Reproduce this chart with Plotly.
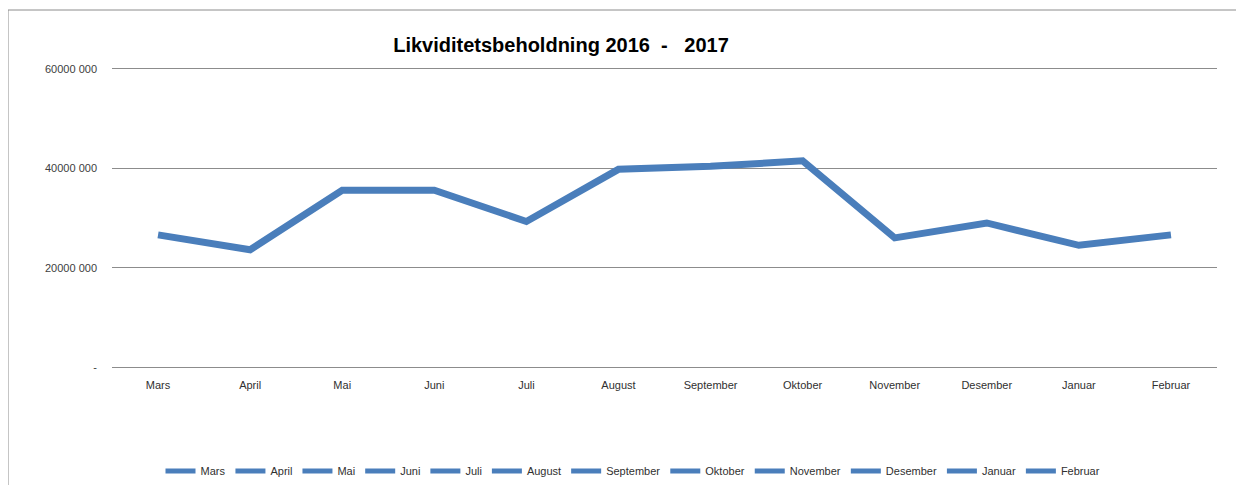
import plotly.graph_objects as go

months = ["Mars", "April", "Mai", "Juni", "Juli", "August", "September",
          "Oktober", "November", "Desember", "Januar", "Februar"]
balance = [26_600_000, 23_600_000, 35_600_000, 35_600_000, 29_300_000, 39_800_000,
           40_400_000, 41_500_000, 26_000_000, 29_000_000, 24_500_000, 26_600_000]
y_tickvals = [0, 20_000_000, 40_000_000, 60_000_000]
y_ticktext = ["-", "20000 000", "40000 000", "60000 000"]
title_text = "Likviditetsbeholdning 2016  -   2017"

LINE = "#4a7ebb"
GRID = "#8c8c8c"
FONT = "Liberation Sans"

OFF = 8  # page body margin
W, H = 1244 - OFF, 485 - OFF
# plot area in screen pixels: x 112..1217, y 69..367
L = 112 - OFF
T = 69 - OFF
R = W - (1217 - OFF)
B = H - (367 - OFF)
pw, ph = W - L - R, H - T - B


def px_x(sx):
    return (sx - OFF - L) / pw


def px_y(sy):
    return 1 - (sy - OFF - T) / ph


fig = go.Figure()
fig.add_trace(go.Scatter(x=months, y=balance, mode="lines",
                         line=dict(color=LINE, width=7), showlegend=False))
for m in months:
    fig.add_trace(go.Scatter(x=[None], y=[None], mode="lines", name=m,
                             line=dict(color=LINE, width=5), showlegend=True))

fig.update_layout(
    width=W, height=H,
    margin=dict(l=L, r=R, t=T, b=B, autoexpand=False),
    plot_bgcolor="white", paper_bgcolor="white",
    font=dict(family=FONT, size=11, color="#404040"),
    title=dict(text="<b>" + title_text + "</b>", x=(561 - OFF) / W, xanchor="center",
               y=1 - (45 - OFF) / H, yanchor="middle",
               font=dict(family=FONT, size=20, color="black")),
    xaxis=dict(type="category", range=[-0.5, len(months) - 0.5],
               showgrid=False, showline=True, linecolor=GRID, mirror=True,
               linewidth=1, ticks="", ticklabelstandoff=8,
               tickfont=dict(size=11, color="#303030"),
               zeroline=False, fixedrange=True),
    yaxis=dict(range=[0, 60_000_000], tickvals=y_tickvals, ticktext=y_ticktext,
               showgrid=True, gridcolor=GRID, gridwidth=1, zeroline=False,
               showline=False, ticks="", ticklabelstandoff=14,
               tickfont=dict(size=11, color="#404040")),
    legend=dict(orientation="h", x=px_x(633), xanchor="center",
                y=px_y(471), yanchor="middle",
                font=dict(size=11, color="#303030"),
                tracegroupgap=0),
    shapes=[dict(type="rect", xref="paper", yref="paper",
                 x0=px_x(8), x1=px_x(1270),
                 y0=px_y(520), y1=px_y(10),
                 line=dict(color="#8c8c8c", width=1), layer="below")],
)

fig.write_html("out.html")
